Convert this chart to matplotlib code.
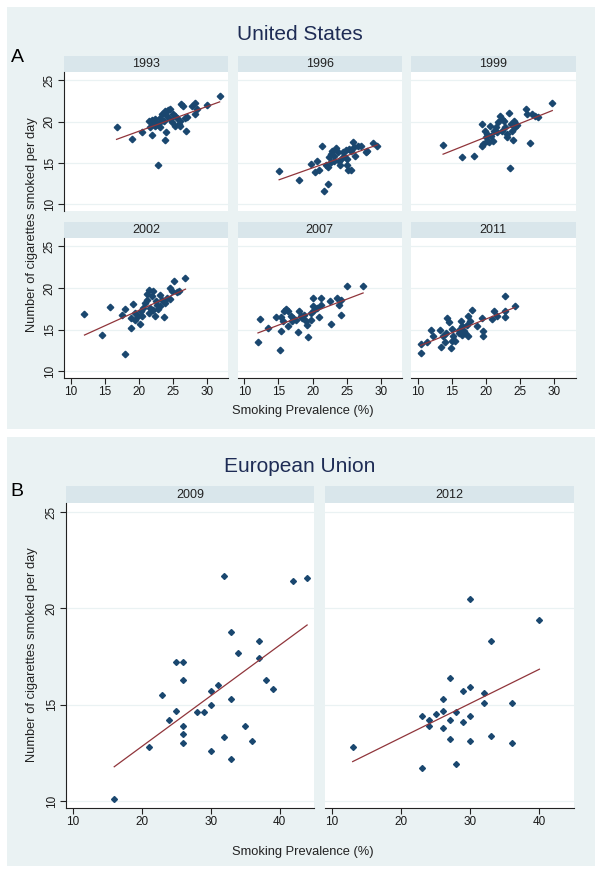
import numpy as np
import matplotlib
matplotlib.use("Agg")
import matplotlib.pyplot as plt
from matplotlib.patches import Rectangle

plt.rcParams['font.family'] = ['Liberation Sans', 'DejaVu Sans']

# ---- data (prevalence %, cigarettes per day) ----

us_years = ['1993', '1996', '1999', '2002', '2007', '2011']

x1993 = [31.8, 16.7, 19.0, 20.5, 21.9, 22.7, 23.8, 24.0, 21.4, 21.9, 22.4, 22.6, 23.1, 23.3, 23.6,
         23.8, 24.2, 24.5, 24.1, 24.6, 24.8, 25.0, 25.3, 25.5, 25.8, 26.0, 26.1, 26.5, 26.9, 26.8,
         27.0, 27.7, 28.2, 28.2, 28.5, 29.9, 23.1, 22.4, 21.6, 22.0, 23.6, 23.1, 25.3, 26.0]
y1993 = [23.1, 19.3, 17.9, 18.8, 18.4, 14.8, 17.8, 18.7, 20.1, 20.2, 20.3, 19.7, 20.5, 20.9, 21.1,
         21.3, 21.4, 21.5, 20.7, 20.3, 19.9, 20.9, 19.5, 20.5, 19.7, 20.1, 22.1, 21.9, 18.9, 20.5,
         20.6, 21.9, 22.2, 20.9, 21.5, 22.0, 19.9, 19.5, 19.3, 19.7, 20.1, 19.3, 20.7, 19.5]

x1996 = [15.1, 18.0, 19.8, 20.6, 20.4, 21.0, 21.4, 21.7, 22.3, 22.2, 22.4, 22.7, 22.9, 23.2, 23.4,
         23.7, 23.8, 24.0, 24.1, 24.6, 24.9, 25.0, 25.1, 25.2, 25.6, 25.7, 25.9, 26.0, 26.2, 26.6,
         27.1, 27.8, 28.0, 28.9, 29.5, 23.2, 22.7, 22.0, 24.4, 25.4]
y1996 = [14.0, 13.0, 14.9, 15.3, 13.9, 14.1, 17.0, 11.6, 12.5, 14.5, 15.7, 16.1, 16.5, 15.3, 16.8,
         16.3, 15.3, 14.8, 15.5, 15.9, 16.6, 14.8, 15.5, 14.2, 16.5, 14.2, 17.5, 16.9, 15.8, 17.1,
         17.1, 16.3, 16.5, 17.4, 17.1, 15.9, 15.1, 14.7, 16.3, 16.7]

x1999 = [13.7, 16.5, 18.3, 19.4, 19.4, 19.6, 19.9, 20.0, 20.2, 20.4, 20.6, 20.7, 21.0, 21.2, 21.5,
         21.8, 22.1, 22.3, 22.6, 22.8, 23.0, 23.1, 23.3, 23.5, 23.6, 23.8, 24.0, 24.1, 24.3, 24.5,
         25.8, 26.0, 26.5, 26.7, 27.2, 27.6, 29.7, 21.6, 22.3, 20.1]
y1999 = [17.2, 15.7, 15.9, 19.7, 17.0, 17.3, 18.9, 18.1, 18.5, 17.5, 19.5, 18.3, 17.7, 18.9, 19.3,
         19.9, 20.7, 20.3, 20.1, 19.3, 18.5, 18.1, 21.1, 14.4, 19.7, 18.9, 17.8, 20.1, 19.3, 19.6,
         21.5, 20.9, 17.4, 20.9, 20.7, 20.6, 22.3, 18.7, 18.9, 17.7]

x2002 = [12.0, 14.5, 15.7, 18.0, 17.5, 18.0, 18.8, 18.8, 19.1, 19.4, 19.4, 19.8, 20.1, 20.3, 20.6,
         20.9, 21.1, 21.2, 21.4, 21.5, 21.6, 21.9, 22.0, 22.1, 22.4, 22.5, 22.8, 23.0, 23.3, 23.6,
         23.8, 24.1, 24.5, 24.6, 24.8, 25.1, 25.5, 25.8, 26.8, 22.6, 20.4, 23.1]
y2002 = [16.9, 14.4, 17.7, 12.1, 16.8, 17.5, 16.4, 15.2, 18.1, 17.0, 16.2, 16.7, 15.7, 17.3, 17.6,
         18.2, 18.6, 19.3, 19.8, 17.0, 17.6, 19.0, 19.7, 17.4, 16.7, 18.4, 17.5, 19.2, 18.6, 16.5,
         18.2, 18.8, 18.7, 20.0, 19.7, 20.8, 19.5, 19.6, 21.2, 18.0, 16.6, 17.9]

x2007 = [12.0, 12.3, 13.4, 14.6, 15.2, 15.3, 15.3, 15.6, 15.8, 16.1, 16.4, 16.4, 16.8, 17.2, 17.5,
         17.8, 18.0, 18.3, 18.5, 18.8, 19.0, 19.2, 19.4, 19.7, 20.0, 20.1, 20.2, 20.6, 21.0, 21.2,
         21.3, 22.6, 22.7, 23.6, 23.8, 24.1, 24.1, 25.1, 27.4, 17.0, 19.7]
y2007 = [13.5, 16.3, 15.2, 16.5, 12.6, 14.8, 16.5, 16.0, 17.2, 17.5, 17.3, 15.4, 16.6, 16.4, 16.2,
         14.7, 17.2, 16.6, 16.4, 16.8, 16.0, 15.6, 14.1, 17.0, 17.9, 18.8, 17.4, 17.6, 16.5, 18.8,
         18.0, 18.5, 15.7, 18.8, 18.0, 18.6, 16.8, 20.2, 20.3, 16.0, 16.2]

x2011 = [10.4, 10.4, 11.3, 12.0, 12.2, 13.3, 13.4, 13.7, 14.0, 14.3, 14.5, 14.8, 15.0, 15.0, 15.2,
         15.5, 16.0, 16.1, 16.3, 16.5, 16.7, 16.9, 17.3, 17.4, 17.7, 17.9, 18.7, 19.4, 19.6, 19.6,
         20.8, 21.2, 21.6, 22.7, 22.8, 22.8, 24.2, 17.2, 14.2, 16.5]
y2011 = [12.2, 13.3, 13.5, 15.0, 14.2, 15.0, 12.9, 14.2, 13.5, 16.4, 15.9, 12.8, 15.1, 13.6, 14.2,
         13.6, 15.0, 14.6, 16.0, 14.4, 14.8, 14.6, 16.6, 14.2, 16.0, 17.4, 15.5, 16.4, 14.9, 14.2,
         16.3, 17.3, 16.6, 19.1, 16.5, 17.3, 17.9, 15.6, 14.6, 15.4]

eu_years = ['2009', '2012']

x2009 = [16, 21, 23, 24, 25, 25, 26, 26, 26, 26, 26, 28, 29, 30, 30, 30, 31, 32, 32, 33, 33, 33,
         34, 35, 36, 37, 37, 38, 39, 42, 44]
y2009 = [10.1, 12.8, 15.5, 14.2, 14.7, 17.2, 17.2, 16.3, 13.9, 13.5, 13.0, 14.6, 14.6, 15.0, 15.7,
         12.6, 16.0, 21.7, 13.3, 18.8, 15.3, 12.2, 17.7, 13.9, 13.1, 18.3, 17.4, 16.3, 15.8, 21.4, 21.6]

x2012 = [13, 23, 23, 24, 24, 25, 26, 26, 26, 27, 27, 27, 28, 28, 29, 29, 30, 30, 30, 30, 32, 32,
         33, 33, 36, 36, 40]
y2012 = [12.8, 11.7, 14.4, 14.2, 13.9, 14.5, 15.3, 14.7, 13.8, 16.4, 14.2, 13.2, 14.6, 11.9, 15.7,
         14.1, 20.5, 15.9, 14.4, 13.1, 15.6, 15.1, 18.3, 13.4, 15.1, 13.0, 19.4]

us_x = [x1993, x1996, x1999, x2002, x2007, x2011]
us_y = [y1993, y1996, y1999, y2002, y2007, y2011]
eu_x = [x2009, x2012]
eu_y = [y2009, y2012]

# ---- styling (Stata s2color look) ----
W, H = 602, 874
bg = '#eaf2f3'
strip_col = '#d9e6eb'
navy = '#1a476f'
maroon = '#90353b'
title_col = '#1e2c55'


def px_axes(fig, l, t, r, b, **kw):
    # place axes using pixel box (top-left origin)
    return fig.add_axes([l / W, 1 - b / H, (r - l) / W, (b - t) / H], **kw)


def strip(fig, l, t, r, b, label):
    sa = px_axes(fig, l, t, r, b)
    sa.set_facecolor(strip_col)
    sa.set_xticks([])
    sa.set_yticks([])
    for s in sa.spines.values():
        s.set_visible(False)
    sa.text(0.5, 0.5, label, ha='center', va='center', fontsize=9, color='#222222',
            transform=sa.transAxes)


def panel(ax, x, y, xlim, ylim, xt, yt, left, bottom, ms):
    ax.set_facecolor('white')
    ax.plot(x, y, linestyle='none', marker='D', markersize=ms, color=navy, zorder=3)
    k, c = np.polyfit(x, y, 1)
    xs = np.array([min(x), max(x)])
    ax.plot(xs, k * xs + c, color=maroon, lw=0.9, zorder=4)
    ax.set_xlim(*xlim)
    ax.set_ylim(*ylim)
    ax.set_xticks(xt)
    ax.set_yticks(yt)
    ax.grid(axis='y', color=bg, lw=0.9)
    ax.grid(axis='x', visible=False)
    ax.set_axisbelow(True)
    for s in ['top', 'right']:
        ax.spines[s].set_visible(False)
    ax.spines['left'].set_visible(left)
    ax.spines['bottom'].set_visible(bottom)
    ax.spines['left'].set_color('#222222')
    ax.spines['bottom'].set_color('#222222')
    ax.tick_params(axis='y', direction='out', length=4 if left else 0, labelleft=left,
                   labelsize=8.5, labelrotation=90, color='#222222', labelcolor='#1a1a1a', pad=2)
    ax.tick_params(axis='x', direction='out', length=4 if bottom else 0, labelbottom=bottom,
                   labelsize=8.5, color='#222222', labelcolor='#1a1a1a', pad=2)
    for lab in ax.get_yticklabels():
        lab.set_va('center')


fig = plt.figure(figsize=(W / 100, H / 100), dpi=100)
fig.patches.append(Rectangle((7 / W, 1 - 429 / H), 588 / W, 422 / H, transform=fig.transFigure,
                             facecolor=bg, edgecolor='none', zorder=-10))
fig.patches.append(Rectangle((7 / W, 1 - 866 / H), 588 / W, 429 / H, transform=fig.transFigure,
                             facecolor=bg, edgecolor='none', zorder=-10))

# ---- A: United States ----
cols = [(64, 228.5), (237.5, 402), (411, 575.5)]
rows = [(72, 211), (238, 378)]
for i, yr in enumerate(us_years):
    r, c = divmod(i, 3)
    l, rr = cols[c]
    t, b = rows[r]
    strip(fig, l, t - 16, rr, t, yr)
    ax = px_axes(fig, l, t, rr, b)
    panel(ax, us_x[i], us_y[i], (9, 33.1), (9.2, 26), [10, 15, 20, 25, 30], [10, 15, 20, 25],
          left=(c == 0), bottom=(r == 1), ms=3.3)

fig.text(300 / W, 1 - 35 / H, 'United States', ha='center', va='center', fontsize=15, color=title_col)
fig.text(17 / W, 1 - 57 / H, 'A', ha='center', va='center', fontsize=14, color='black')
fig.text(303 / W, 1 - 411 / H, 'Smoking Prevalence (%)', ha='center', va='center', fontsize=9.3,
         color='#222222')
fig.text(32 / W, 1 - 225 / H, 'Number of cigarettes smoked per day', ha='center', va='center',
         rotation=90, fontsize=9.3, color='#222222')

# ---- B: European Union ----
eu_cols = [(66, 314), (325, 574)]
for i, yr in enumerate(eu_years):
    l, rr = eu_cols[i]
    strip(fig, l, 486, rr, 503, yr)
    ax = px_axes(fig, l, 503, rr, 808)
    panel(ax, eu_x[i], eu_y[i], (9, 45), (9.64, 25.47), [10, 20, 30, 40], [10, 15, 20, 25],
          left=(i == 0), bottom=True, ms=3.0)

fig.text(300 / W, 1 - 467 / H, 'European Union', ha='center', va='center', fontsize=15, color=title_col)
fig.text(17 / W, 1 - 491 / H, 'B', ha='center', va='center', fontsize=14, color='black')
fig.text(303 / W, 1 - 852 / H, 'Smoking Prevalence (%)', ha='center', va='center', fontsize=9.3,
         color='#222222')
fig.text(32 / W, 1 - 655 / H, 'Number of cigarettes smoked per day', ha='center', va='center',
         rotation=90, fontsize=9.3, color='#222222')

fig.savefig('out.png', dpi=100, facecolor='white')
